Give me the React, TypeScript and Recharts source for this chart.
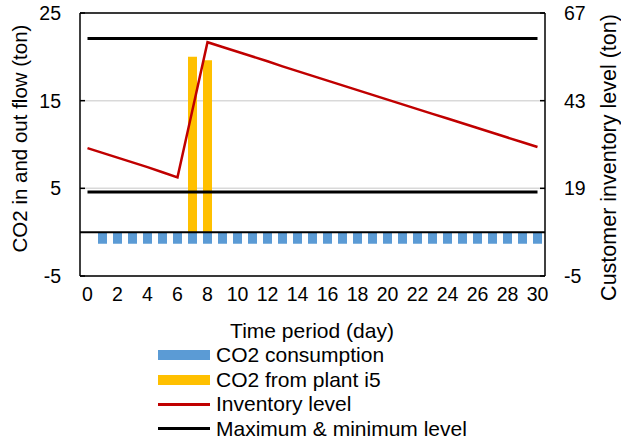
import React from "react"
import {
  ComposedChart,
  Bar,
  Line,
  XAxis,
  YAxis,
  CartesianGrid,
  ReferenceLine,
} from "recharts"

// days 0..30
const days = Array.from({ length: 31 }, (_, i) => i)

// left axis (ton per day)
const consumption: (number | null)[] = [
  null, -1.32, -1.32, -1.32, -1.32, -1.32, -1.32, -1.32, -1.32, -1.32, -1.32,
  -1.32, -1.32, -1.32, -1.32, -1.32, -1.32, -1.32, -1.32, -1.32, -1.32,
  -1.32, -1.32, -1.32, -1.32, -1.32, -1.32, -1.32, -1.32, -1.32, -1.32,
]
const fromPlant: (number | null)[] = [
  null, null, null, null, null, null, null, 20, 19.6, null, null,
  null, null, null, null, null, null, null, null, null, null,
  null, null, null, null, null, null, null, null, null, null,
]

// right axis (ton)
const inventory = [
  30, 28.7, 27.4, 26.1, 24.8, 23.4, 22, 40.5, 59, 57.7, 56.4,
  55.1, 53.8, 52.4, 51.1, 49.8, 48.5, 47.2, 45.9, 44.6, 43.3,
  42, 40.7, 39.4, 38.1, 36.8, 35.5, 34.2, 32.9, 31.6, 30.3,
]
const maxLevel = 60
const minLevel = 18

const leftTicks = [-5, 5, 15, 25]
const rightTicks = [-5, 19, 43, 67]

const data = days.map((d, i) => ({
  day: d,
  consumption: consumption[i],
  plant: fromPlant[i],
  inventory: inventory[i],
  max: maxLevel,
  min: minLevel,
}))

const FONT = "'Liberation Sans', Arial, sans-serif"
const tickStyle = { fill: "#000", fontSize: 19.5, fontFamily: FONT }

const legendItems = [
  { label: "CO2 consumption", kind: "box", color: "#5B9BD5" },
  { label: "CO2 from plant i5", kind: "box", color: "#FFC000" },
  { label: "Inventory level", kind: "line", color: "#C00000" },
  { label: "Maximum & minimum level", kind: "line", color: "#000000" },
]

function ChartLegend() {
  return (
    <div style={{ position: "absolute", left: 158, top: 343, fontFamily: FONT, fontSize: 21 }}>
      {legendItems.map((it) => (
        <div key={it.label} style={{ display: "flex", alignItems: "center", height: 24.5 }}>
          <div style={{ width: 52, height: it.kind === "box" ? 10 : 3, background: it.color, marginRight: 6 }} />
          <span style={{ lineHeight: "24px", color: "#000" }}>{it.label}</span>
        </div>
      ))}
    </div>
  )
}

export default function App() {
  return (
    <div style={{ position: "absolute", left: 0, top: 0, width: 621, height: 442, background: "#fff" }}>
      <ComposedChart
        width={621}
        height={442}
        data={data}
        margin={{ top: 13, right: 0, bottom: 136, left: 0 }}
        stackOffset="sign"
        barSize={9}
      >
        <CartesianGrid yAxisId="left" vertical={false} stroke="#D9D9D9" strokeWidth={1.5} />
        <XAxis
          dataKey="day"
          interval={1}
          height={30}
          tick={tickStyle}
          tickLine={false}
          tickSize={6}
          tickMargin={5}
          axisLine={{ stroke: "#000", strokeWidth: 1.5 }}
          label={() => (
            <text x={312} y={330} textAnchor="middle" dominantBaseline="central" fontSize={21} fontFamily={FONT} fill="#000">
              Time period (day)
            </text>
          )}
        />
        <YAxis
          yAxisId="left"
          width={80}
          domain={[-5, 25]}
          ticks={leftTicks}
          allowDataOverflow
          tick={tickStyle}
          tickSize={-5}
          tickMargin={24}
          tickLine={{ stroke: "#000", strokeWidth: 1.5 }}
          axisLine={{ stroke: "#000", strokeWidth: 1.5 }}
          label={() => (
            <text
              transform="translate(19,138.5) rotate(-90)"
              textAnchor="middle"
              dominantBaseline="central"
              fontSize={20.5}
              fontFamily={FONT}
              fill="#000"
            >
              CO2 in and out flow (ton)
            </text>
          )}
        />
        <YAxis
          yAxisId="right"
          orientation="right"
          width={76}
          domain={[-5, 67]}
          ticks={rightTicks}
          allowDataOverflow
          tick={tickStyle}
          tickSize={-5}
          tickMargin={24}
          tickLine={{ stroke: "#000", strokeWidth: 1.5 }}
          axisLine={{ stroke: "#000", strokeWidth: 1.5 }}
          label={() => (
            <text
              transform="translate(609,157.5) rotate(-90)"
              textAnchor="middle"
              dominantBaseline="central"
              fontSize={21.5}
              fontFamily={FONT}
              fill="#000"
            >
              Customer inventory level (ton)
            </text>
          )}
        />
        <ReferenceLine yAxisId="left" y={25} stroke="#000" strokeWidth={1.5} />
        <Bar yAxisId="left" dataKey="consumption" stackId="flow" fill="#5B9BD5" isAnimationActive={false} />
        <Bar yAxisId="left" dataKey="plant" stackId="flow" fill="#FFC000" isAnimationActive={false} />
        <ReferenceLine yAxisId="left" y={0} stroke="#000" strokeWidth={2} />
        <Line yAxisId="right" dataKey="max" stroke="#000" strokeWidth={3} dot={false} isAnimationActive={false} />
        <Line yAxisId="right" dataKey="min" stroke="#000" strokeWidth={3} dot={false} isAnimationActive={false} />
        <Line yAxisId="right" dataKey="inventory" stroke="#C00000" strokeWidth={2.5} dot={false} isAnimationActive={false} />
      </ComposedChart>
      <ChartLegend />
    </div>
  )
}
